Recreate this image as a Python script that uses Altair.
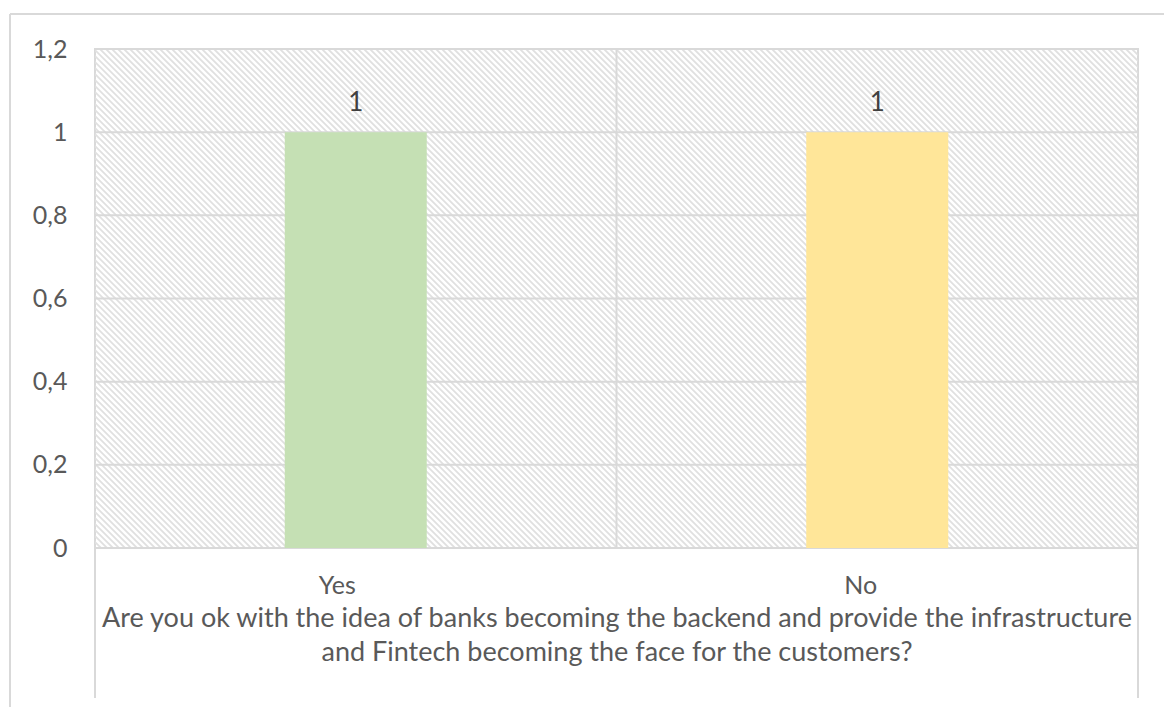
import altair as alt
import pandas as pd

# ---- data ----
categories = ["Yes", "No"]
values = [1, 1]
bar_colors = ["#C5E0B4", "#FFE699"]
y_ticks = [0, 0.2, 0.4, 0.6, 0.8, 1.0, 1.2]
title_lines = [
    "Are you ok with the idea of banks becoming the backend and provide the infrastructure",
    "and Fintech becoming the face for the customers?",
]

W, H = 1043, 499
FONT = "Lato"
TXT = "#595959"
GRID = "#d9d9d9"
HATCH_STEP = 6

df = pd.DataFrame({"cat": categories, "value": values})
ticks_df = pd.DataFrame({"t": y_ticks})
sep_df = pd.DataFrame({"cat": categories[1:]})

xscale = alt.Scale(domain=categories, paddingInner=0, paddingOuter=0)
yscale = alt.Scale(domain=[0, 1.2], nice=False, zero=True)

# hatch background pattern (decorative)
n_lines = int((W + H) / HATCH_STEP) + 2
hatch = (
    alt.Chart(alt.sequence(0, n_lines, as_="i"))
    .transform_calculate(
        xa=f"datum.i * {HATCH_STEP} - {H}",
        xb=f"datum.i * {HATCH_STEP}",
        ya=f"{H}",
        yb="0",
    )
    .mark_rule(clip=True, stroke="#e0e0e0", strokeWidth=1.8)
    .encode(
        x=alt.X("xa:Q", scale=alt.Scale(domain=[0, W], nice=False, zero=False), axis=None),
        x2="xb:Q",
        y=alt.Y("ya:Q", scale=alt.Scale(domain=[0, H], nice=False, zero=False), axis=None),
        y2="yb:Q",
    )
)

grid = (
    alt.Chart(ticks_df)
    .mark_rule(stroke=GRID, strokeWidth=2)
    .encode(
        y=alt.Y("t:Q", scale=yscale),
        x=alt.value(0),
        x2=alt.value(W),
    )
)

sep = (
    alt.Chart(sep_df)
    .mark_rule(stroke=GRID, strokeWidth=2)
    .encode(
        x=alt.X("cat:N", scale=xscale, bandPosition=0),
        y=alt.value(0),
        y2=alt.value(H),
    )
)

bars = (
    alt.Chart(df)
    .mark_bar(width=alt.RelativeBandSize(142 / 521.5))
    .encode(
        x=alt.X(
            "cat:N",
            scale=xscale,
            sort=categories,
            axis=alt.Axis(
                orient="bottom",
                title=title_lines,
                labelAngle=0,
                ticks=False,
                tickSize=0,
                domain=False,
                labelBaseline="middle",
                labelPadding=37,
                labelFont=FONT,
                labelFontSize=25,
                labelColor=TXT,
                titleFont=FONT,
                titleFontSize=27,
                titleFontWeight="normal",
                titleColor=TXT,
                titleLineHeight=34,
                titleBaseline="top",
                titleY=57,
            ),
        ),
        y=alt.Y(
            "value:Q",
            scale=yscale,
            axis=alt.Axis(
                orient="left",
                title=None,
                values=y_ticks,
                grid=False,
                ticks=False,
                tickSize=0,
                domain=False,
                labelPadding=28,
                labelFont=FONT,
                labelFontSize=25,
                labelColor=TXT,
                labelExpr="replace(format(datum.value, '.1~f'), '.', ',')",
            ),
        ),
        color=alt.Color(
            "cat:N",
            scale=alt.Scale(domain=categories, range=bar_colors),
            legend=None,
        ),
    )
)

labels = (
    alt.Chart(df)
    .mark_text(dy=-29, font=FONT, fontSize=26, color="#404040", baseline="middle")
    .encode(
        x=alt.X("cat:N", scale=xscale),
        y=alt.Y("value:Q", scale=yscale),
        text=alt.Text("value:Q", format="~g"),
    )
)

# frame decorations: extensions of the plot sides and the outer chart border
frame = alt.layer(
    alt.Chart(df).mark_rule(stroke=GRID, strokeWidth=2, clip=False).encode(
        x=alt.value(0), y=alt.value(H), y2=alt.value(H + 150)
    ),
    alt.Chart(df).mark_rule(stroke=GRID, strokeWidth=2, clip=False).encode(
        x=alt.value(W), y=alt.value(H), y2=alt.value(H + 150)
    ),
    alt.Chart(df).mark_rule(stroke=GRID, strokeWidth=2, clip=False).encode(
        x=alt.value(-85), x2=alt.value(1100), y=alt.value(-35)
    ),
    alt.Chart(df).mark_rule(stroke=GRID, strokeWidth=2, clip=False).encode(
        x=alt.value(-85), y=alt.value(-35), y2=alt.value(700)
    ),
)

main = alt.layer(grid, sep, bars, labels, frame)

chart = (
    alt.layer(hatch, main)
    .resolve_scale(x="independent", y="independent")
    .properties(
        width=W,
        height=H,
        autosize=alt.AutoSizeParams(type="none"),
        padding={"left": 95, "top": 49, "right": 26, "bottom": 159},
        background="white",
    )
    .configure_view(stroke=GRID, strokeWidth=2)
)

chart.save("out.html", embed_options={"renderer": "svg", "actions": False})
